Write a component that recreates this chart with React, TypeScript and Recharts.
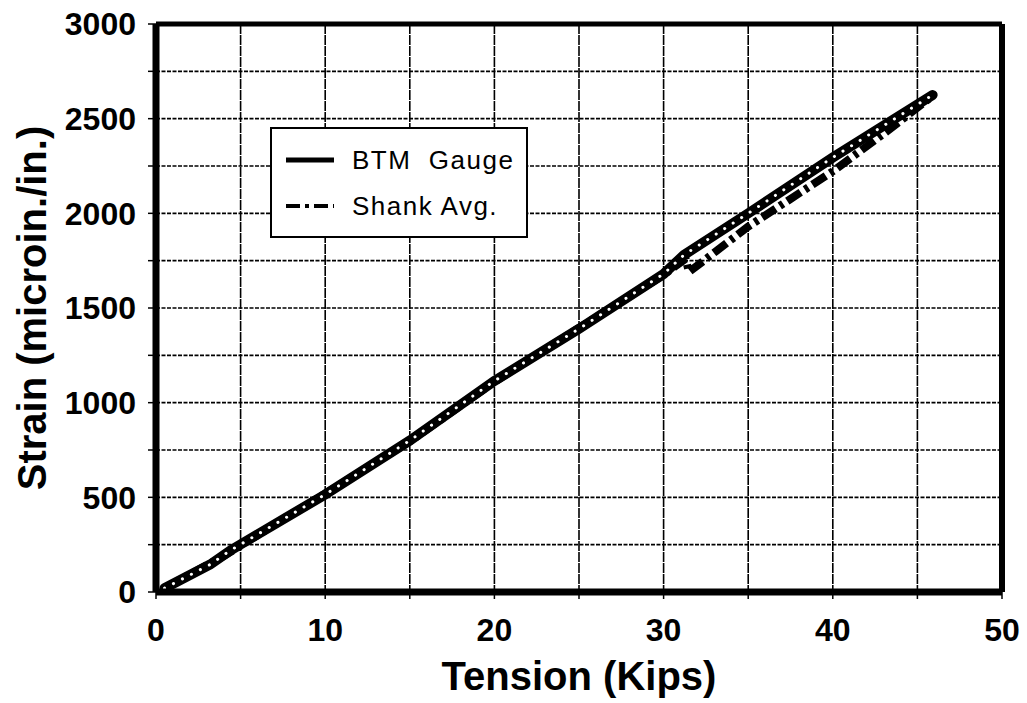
import React from 'react';
import {
  LineChart,
  Line,
  XAxis,
  YAxis,
  CartesianGrid,
  ReferenceLine,
  Legend,
  Label,
} from 'recharts';

// Tension (kips) vs strain (microin./in.)
const btmTension = [0.5, 3.2, 4.4, 10, 15, 20, 25, 30, 31.2, 35, 40, 45.9];
const btmStrain = [20, 145, 220, 515, 800, 1115, 1390, 1680, 1780, 2000, 2295, 2625];

const shankTension = [0.6, 4, 10, 15, 20, 25, 30, 31.3, 31.5, 35, 40, 43, 45.9];
const shankStrain = [25, 190, 520, 795, 1110, 1395, 1675, 1760, 1690, 1930, 2222, 2420, 2620];

const xTicks = [0, 5, 10, 15, 20, 25, 30, 35, 40, 45, 50];
const yTicks = [0, 250, 500, 750, 1000, 1250, 1500, 1750, 2000, 2250, 2500, 2750, 3000];

const seriesNames = ['BTM Gauge', 'Shank Avg.'];

const btmData = btmTension.map((t, i) => ({ t, v: btmStrain[i] }));
const shankData = shankTension.map((t, i) => ({ t, v: shankStrain[i] }));

const tickFont = {
  fill: '#000',
  fontSize: 32,
  fontWeight: 700,
  fontFamily: '"Liberation Sans", Arial, sans-serif',
};

function LegendBox() {
  const rowStyle: React.CSSProperties = {
    display: 'flex',
    alignItems: 'center',
    height: 46,
  };
  const textStyle: React.CSSProperties = {
    fontFamily: '"Liberation Sans", Arial, sans-serif',
    fontSize: 26,
    letterSpacing: 1.5,
    color: '#000',
    marginLeft: 18,
    whiteSpace: 'pre',
  };
  return (
    <div
      style={{
        width: 258,
        height: 111,
        border: '2px solid #000',
        background: '#fff',
        boxSizing: 'border-box',
        padding: '8px 0 0 14px',
      }}
    >
      <div style={rowStyle}>
        <svg width={48} height={10}>
          <line x1={0} y1={5} x2={48} y2={5} stroke="#000" strokeWidth={5} />
        </svg>
        <span style={textStyle}>{'BTM  Gauge'}</span>
      </div>
      <div style={rowStyle}>
        <svg width={48} height={10}>
          <line
            x1={0}
            y1={5}
            x2={48}
            y2={5}
            stroke="#000"
            strokeWidth={4}
            strokeDasharray="14 5 4 5"
          />
        </svg>
        <span style={textStyle}>{seriesNames[1]}</span>
      </div>
    </div>
  );
}

export default function App() {
  return (
    <div style={{ position: 'absolute', left: 0, top: 0, background: '#fff' }}>
      <LineChart
        width={1027}
        height={703}
        margin={{ top: 24, right: 25, bottom: 0, left: 0 }}
      >
        <CartesianGrid
          vertical={false}
          stroke="#000"
          strokeWidth={1.6}
          strokeDasharray="4 1.5"
        />
        <CartesianGrid
          horizontal={false}
          stroke="#000"
          strokeWidth={1.6}
          strokeDasharray="10 1"
        />
        <XAxis
          dataKey="t"
          type="number"
          domain={[0, 50]}
          ticks={xTicks}
          allowDuplicatedCategory={false}
          height={111}
          tickSize={7}
          tickMargin={19}
          tick={tickFont}
          tickFormatter={(v: number) => (v % 10 === 0 ? String(v) : '')}
          axisLine={{ stroke: '#000', strokeWidth: 7 }}
          tickLine={{ stroke: '#000', strokeWidth: 1.5 }}
        >
          <Label
            value="Tension (Kips)"
            position="insideBottom"
            offset={13}
            style={{
              fill: '#000',
              fontSize: 40,
              fontWeight: 700,
              fontFamily: '"Liberation Sans", Arial, sans-serif',
            }}
          />
        </XAxis>
        <YAxis
          dataKey="v"
          type="number"
          domain={[0, 3000]}
          ticks={yTicks}
          width={156}
          tickSize={8}
          tickMargin={12}
          tick={tickFont}
          tickFormatter={(v: number) => (v % 500 === 0 ? String(v) : '')}
          axisLine={{ stroke: '#000', strokeWidth: 7 }}
          tickLine={{ stroke: '#000', strokeWidth: 1.5 }}
        >
          <Label
            value="Strain (microin./in.)"
            angle={-90}
            position="center"
            dx={-46}
            style={{
              fill: '#000',
              fontSize: 40,
              fontWeight: 700,
              fontFamily: '"Liberation Sans", Arial, sans-serif',
            }}
          />
        </YAxis>
        <ReferenceLine y={3000} stroke="#000" strokeWidth={5} />
        <ReferenceLine x={50} stroke="#000" strokeWidth={6} />
        <Line
          data={shankData}
          dataKey="v"
          name={seriesNames[1]}
          type="linear"
          stroke="#000"
          strokeWidth={8}
          strokeDasharray="16 5 4 5"
          dot={false}
          isAnimationActive={false}
        />
        <Line
          data={btmData}
          dataKey="v"
          name={seriesNames[0]}
          type="linear"
          stroke="#000"
          strokeWidth={10}
          strokeLinecap="round"
          dot={false}
          isAnimationActive={false}
        />
        <Line
          data={btmData}
          dataKey="v"
          name="btm-highlight"
          legendType="none"
          type="linear"
          stroke="#fff"
          strokeWidth={3}
          strokeLinecap="round"
          strokeDasharray="0.1 10"
          dot={false}
          isAnimationActive={false}
        />
        <Legend
          layout="horizontal"
          verticalAlign="middle"
          align="center"
          content={() => <LegendBox />}
          wrapperStyle={{ position: 'absolute', left: 270, top: 127, width: 258, height: 111 }}
        />
      </LineChart>
    </div>
  );
}
